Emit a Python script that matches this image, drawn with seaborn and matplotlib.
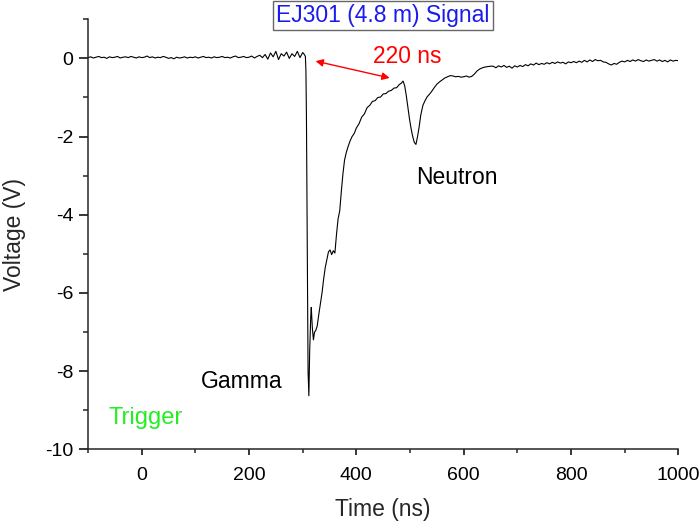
import numpy as np
import pandas as pd
import matplotlib
matplotlib.use("Agg")
import matplotlib.pyplot as plt
from matplotlib.ticker import MultipleLocator
import seaborn as sns

# ==========================================
# Data (time in ns, voltage in V)
# ==========================================
# flat baseline before the pulse, every 5 ns from -100 to 300
baseline_t = list(range(-100, 305, 5))
baseline_v = [0.02, 0.04, 0.01, 0.03, 0.05, 0.02, 0.03, 0.00, 0.04, 0.02,
              0.03, 0.05, 0.01, 0.03, 0.04, 0.02, 0.05, 0.03, 0.01, 0.04,
              0.02, 0.03, 0.06, 0.02, 0.04, 0.01, 0.03, 0.02, 0.05, 0.03,
              0.00, 0.02, -0.01, 0.03, 0.01, 0.02, 0.04, 0.01, 0.03, 0.02,
              0.04, 0.01, 0.03, 0.05, 0.02, 0.03, 0.01, 0.04, 0.02, 0.03,
              0.05, 0.02, 0.03, 0.01, 0.04, 0.06, 0.02, 0.03, 0.05, 0.02,
              0.03, 0.06, 0.01, 0.05, 0.08, 0.02, 0.10, -0.02, 0.14, 0.04,
              0.18, -0.03, 0.12, 0.06, 0.16, 0.00, 0.12, 0.05, 0.18, 0.02,
              0.15]

# gamma pulse and recovery, neutron bump
pulse_t = [303, 305, 306, 307, 308, 309, 310, 311.5, 313, 315, 316, 318,
           320, 322, 324, 327, 330, 333, 336, 339, 342, 345, 348, 351,
           354, 357, 360, 363, 366, 369, 372, 375, 378, 381, 384, 388,
           392, 396, 400, 405, 410, 415, 420, 425, 430, 435, 440, 445,
           450, 455, 460, 465, 470, 475, 480, 484, 487, 490, 493, 496,
           499, 502, 505, 508, 511, 514, 517, 520, 524, 528, 532, 536,
           540, 545, 550, 555, 560, 565, 570, 575, 580, 585, 590, 595,
           600, 605, 610, 615, 620, 625, 630, 635, 640, 645, 650]
pulse_v = [0.10, 0.05, -0.3, -1.5, -3.8, -6.0, -8.0, -8.63, -7.5, -6.6, -6.37, -6.9,
           -7.2, -7.0, -6.97, -6.85, -6.55, -6.28, -6.0, -5.65, -5.35, -5.15, -4.95, -4.9,
           -5.02, -4.92, -4.98, -4.5, -4.1, -3.9, -3.4, -2.95, -2.6, -2.42, -2.28, -2.12,
           -2.0, -1.92, -1.78, -1.67, -1.50, -1.42, -1.26, -1.20, -1.10, -1.08, -1.00, -0.99,
           -0.91, -0.90, -0.84, -0.82, -0.76, -0.75, -0.67, -0.63, -0.58, -0.70, -0.95, -1.25,
           -1.55, -1.80, -2.00, -2.15, -2.20, -2.00, -1.75, -1.45, -1.20, -1.08, -0.98, -0.92,
           -0.85, -0.75, -0.66, -0.60, -0.55, -0.50, -0.47, -0.44, -0.45, -0.47, -0.46, -0.48,
           -0.47, -0.45, -0.48, -0.46, -0.40, -0.32, -0.27, -0.24, -0.22, -0.21, -0.20]

# slow tail, every 5 ns from 655 to 1000
tail_t = list(range(655, 1005, 5))
tail_v = [-0.20, -0.24, -0.19, -0.22, -0.18, -0.23, -0.20, -0.25, -0.19, -0.22,
          -0.18, -0.21, -0.16, -0.19, -0.14, -0.17, -0.12, -0.16, -0.13, -0.15,
          -0.11, -0.14, -0.10, -0.13, -0.09, -0.12, -0.10, -0.14, -0.09, -0.11,
          -0.08, -0.11, -0.07, -0.10, -0.05, -0.09, -0.04, -0.08, -0.03, -0.06,
          -0.05, -0.09, -0.10, -0.14, -0.17, -0.13, -0.15, -0.10, -0.07, -0.09,
          -0.05, -0.08, -0.04, -0.07, -0.03, -0.06, -0.08, -0.04, -0.07, -0.05,
          -0.03, -0.07, -0.04, -0.08, -0.05, -0.09, -0.04, -0.07, -0.05, -0.06]

df = pd.DataFrame({
    "time": baseline_t + pulse_t + tail_t,
    "voltage": baseline_v + pulse_v + tail_v,
})

# ==========================================
# Style
# ==========================================
sns.set_theme(style="ticks")
plt.rcParams['font.family'] = ['Liberation Sans', 'DejaVu Sans']
plt.rcParams['axes.linewidth'] = 1.1
plt.rcParams['axes.unicode_minus'] = False

fig = plt.figure(figsize=(6.99, 5.21), dpi=100)
ax = fig.add_axes([88 / 699, 1 - 449.3 / 521, (678.4 - 88) / 699, (449.3 - 19.3) / 521])

sns.lineplot(data=df, x="time", y="voltage", ax=ax, color="black",
             linewidth=0.8, estimator=None, sort=False)

ax.set_xlim(-100, 1000)
ax.set_ylim(-10, 1)
ax.xaxis.set_major_locator(MultipleLocator(200))
ax.xaxis.set_minor_locator(MultipleLocator(100))
ax.yaxis.set_major_locator(MultipleLocator(2))
ax.yaxis.set_minor_locator(MultipleLocator(1))
ax.tick_params(axis="x", which="major", length=4, width=1.1, labelsize=14, pad=9, colors="black")
ax.tick_params(axis="x", which="minor", length=3, width=1.1)
ax.tick_params(axis="y", which="major", length=6.5, width=1.1, labelsize=14, pad=4, colors="black")
ax.tick_params(axis="y", which="minor", length=3.5, width=1.1)
sns.despine(ax=ax)
ax.set_xlabel("Time (ns)", fontsize=16.5, labelpad=10)
ax.set_ylabel("Voltage (V)", fontsize=16.5, labelpad=14)

# annotations
ax.text(494, 0.06, "220 ns", color="red", fontsize=16.4, ha="center", va="center")
ax.annotate("", xy=(324, -0.07), xytext=(462, -0.5),
            arrowprops=dict(arrowstyle="<|-|>", color="red", lw=1.0,
                            mutation_scale=11, shrinkA=0, shrinkB=0))
ax.text(587, -3.04, "Neutron", color="black", fontsize=16.5, ha="center", va="center")
ax.text(186, -8.27, "Gamma", color="black", fontsize=16.5, ha="center", va="center")
ax.text(7, -9.2, "Trigger", color="#22ee22", fontsize=17, ha="center", va="center")

fig.text(383 / 699, 1 - 15.5 / 521, "EJ301 (4.8 m) Signal", color="#1a1aee",
         fontsize=16.5, ha="center", va="center",
         bbox=dict(boxstyle="square,pad=0.15", facecolor="white",
                   edgecolor="#666666", linewidth=1.0))

fig.savefig("out.png", dpi=100)
